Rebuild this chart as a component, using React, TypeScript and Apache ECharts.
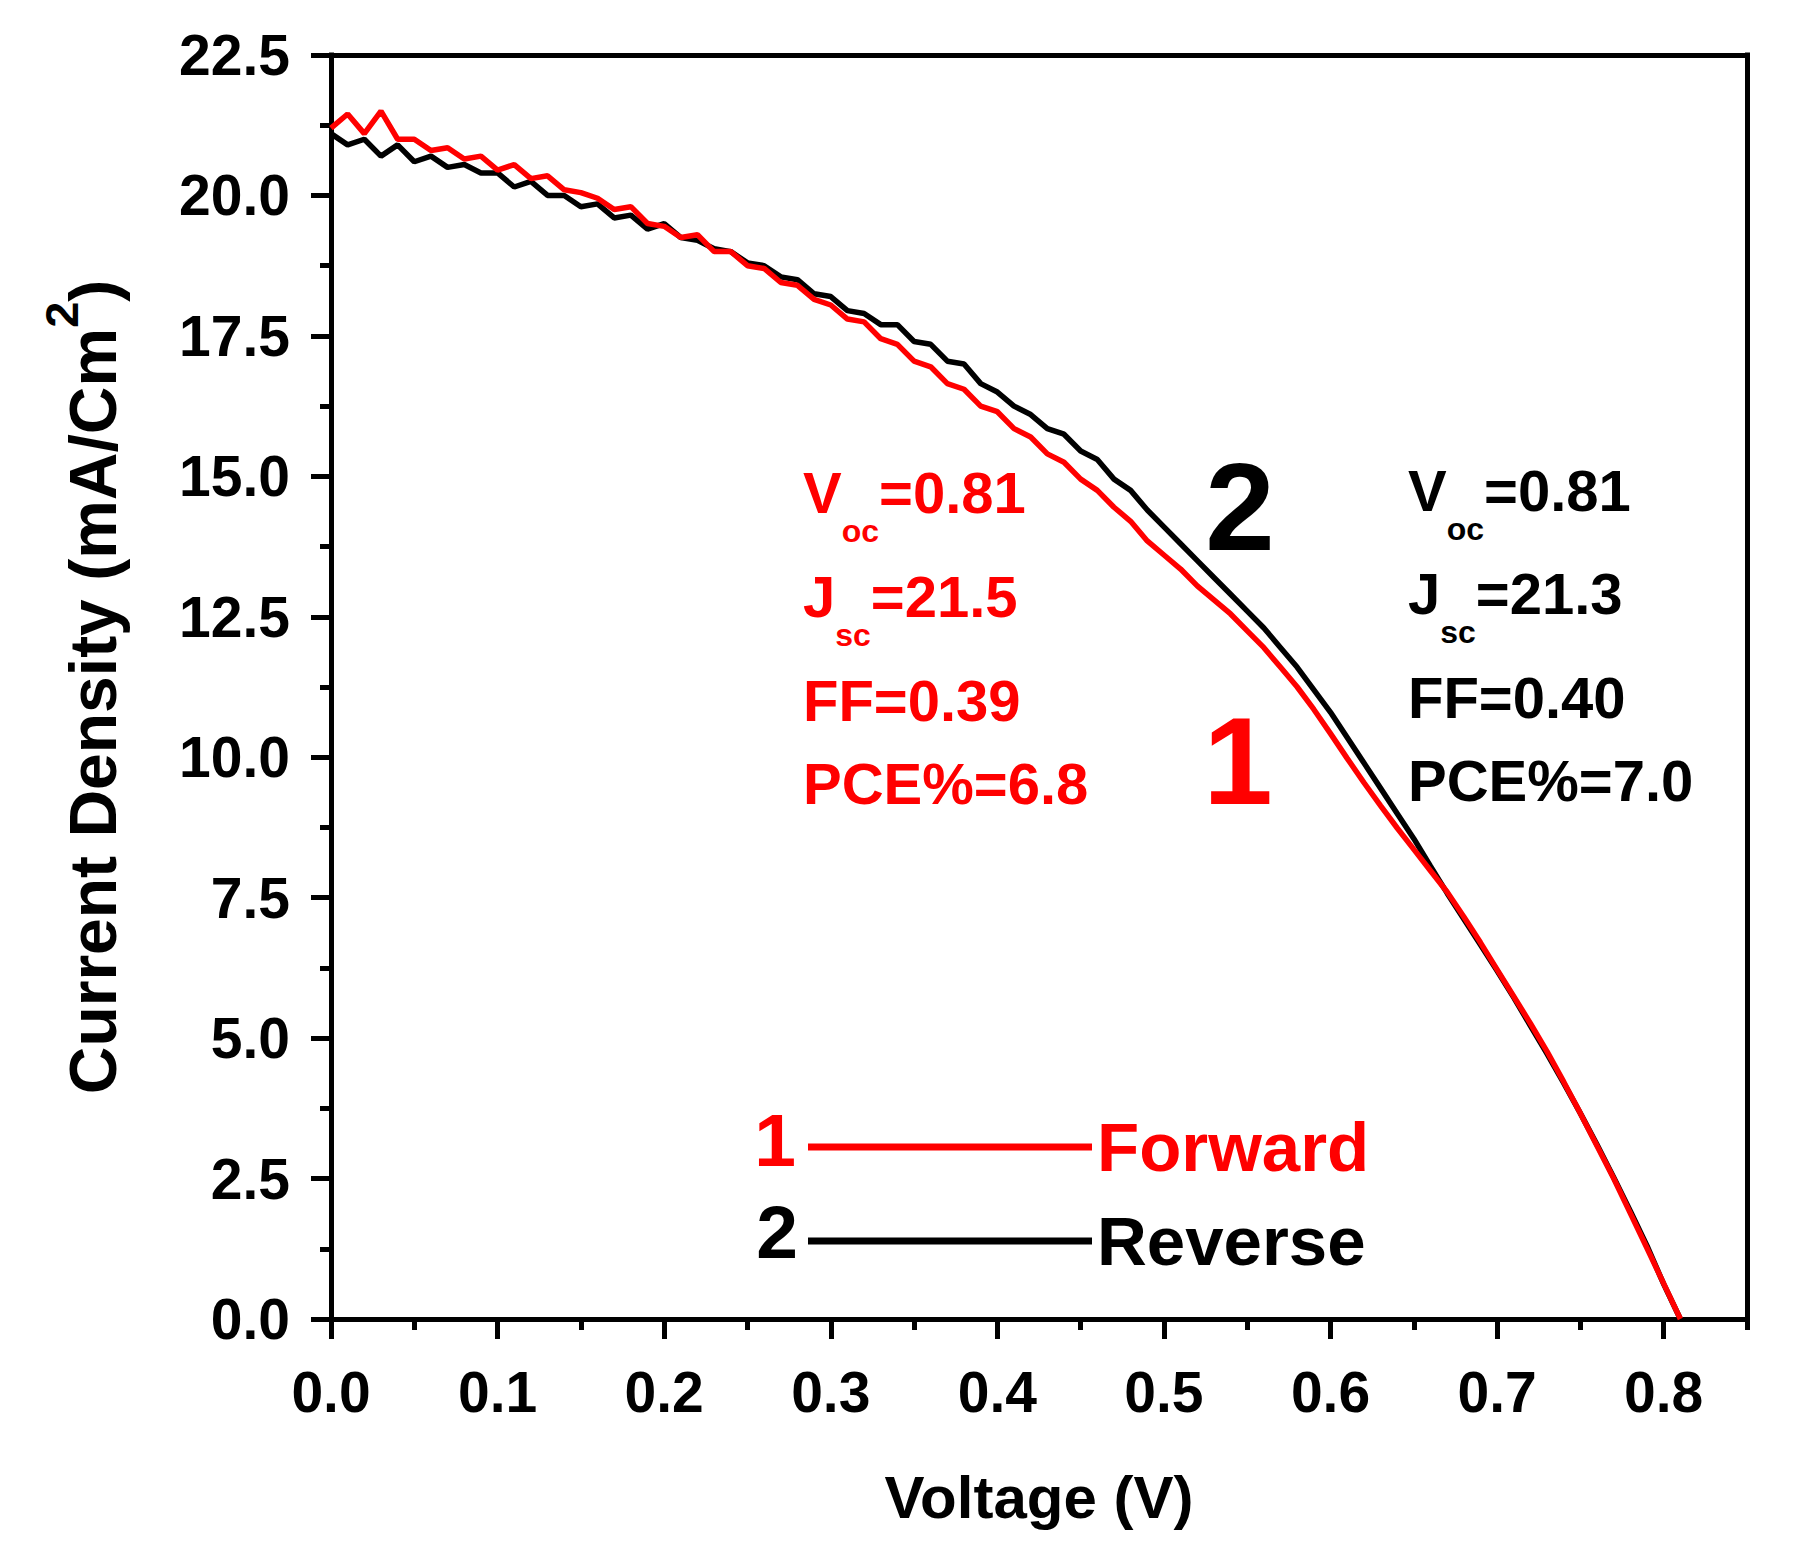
import React, { useEffect, useRef } from "react";
import * as echarts from "echarts";

const voltage = [
  0.0, 0.01, 0.02, 0.03, 0.04, 0.05, 0.06, 0.07, 0.08, 0.09,
  0.1, 0.11, 0.12, 0.13, 0.14, 0.15, 0.16, 0.17, 0.18, 0.19,
  0.2, 0.21, 0.22, 0.23, 0.24, 0.25, 0.26, 0.27, 0.28, 0.29,
  0.3, 0.31, 0.32, 0.33, 0.34, 0.35, 0.36, 0.37, 0.38, 0.39,
  0.4, 0.41, 0.42, 0.43, 0.44, 0.45, 0.46, 0.47, 0.48, 0.49,
  0.5, 0.51, 0.52, 0.53, 0.54, 0.55, 0.56, 0.57, 0.58, 0.59,
  0.6, 0.61, 0.62, 0.63, 0.64, 0.65, 0.66, 0.67, 0.68, 0.69,
  0.7, 0.71, 0.72, 0.73, 0.74, 0.75, 0.76, 0.77, 0.78, 0.79,
  0.8, 0.81,
];

const forwardJ = [
  21.2, 21.45, 21.1, 21.5, 21.0, 21.0, 20.8, 20.85, 20.65, 20.7,
  20.45, 20.55, 20.3, 20.35, 20.1, 20.05, 19.95, 19.75, 19.8, 19.5,
  19.45, 19.25, 19.3, 19.0, 19.0, 18.75, 18.7, 18.45, 18.4, 18.15,
  18.05, 17.8, 17.75, 17.45, 17.35, 17.05, 16.95, 16.65, 16.55, 16.25,
  16.15, 15.85, 15.7, 15.4, 15.25, 14.95, 14.75, 14.45, 14.2, 13.85,
  13.6, 13.35, 13.05, 12.8, 12.55, 12.25, 11.95, 11.6, 11.25, 10.85,
  10.42, 9.98, 9.55, 9.14, 8.74, 8.36, 7.98, 7.6, 7.16, 6.7,
  6.22, 5.74, 5.26, 4.76, 4.22, 3.66, 3.08, 2.5, 1.88, 1.26,
  0.63, 0.0,
];

const reverseJ = [
  21.1, 20.9, 21.0, 20.7, 20.9, 20.6, 20.7, 20.5, 20.55, 20.4,
  20.4, 20.15, 20.25, 20.0, 20.0, 19.8, 19.85, 19.6, 19.65, 19.4,
  19.5, 19.25, 19.2, 19.05, 19.0, 18.8, 18.75, 18.55, 18.5, 18.25,
  18.2, 17.95, 17.9, 17.7, 17.7, 17.4, 17.35, 17.05, 17.0, 16.65,
  16.5, 16.25, 16.1, 15.85, 15.75, 15.45, 15.3, 14.95, 14.75, 14.4,
  14.1, 13.8, 13.5, 13.2, 12.9, 12.6, 12.3, 11.95, 11.6, 11.2,
  10.8, 10.35, 9.9, 9.45, 9.0, 8.55, 8.06, 7.58, 7.12, 6.66,
  6.2, 5.72, 5.22, 4.72, 4.2, 3.66, 3.1, 2.52, 1.92, 1.3,
  0.62, 0.0,
];

const xMajorTicks = [0, 0.1, 0.2, 0.3, 0.4, 0.5, 0.6, 0.7, 0.8];
const xMinorTicks = [0.05, 0.15, 0.25, 0.35, 0.45, 0.55, 0.65, 0.75, 0.85];
const xRange = [0, 0.85];
const yRange = [0, 22.5];
const yInterval = 2.5;

const seriesNames = ["Forward", "Reverse"];
const seriesColors = ["#ff0000", "#000000"];
const seriesNumbers = ["1", "2"];

const statNames = ["V", "J", "FF", "PCE%"];
const statSubs = ["oc", "sc", "", ""];
const forwardStats = ["0.81", "21.5", "0.39", "6.8"];
const reverseStats = ["0.81", "21.3", "0.40", "7.0"];

const FONT = '"Liberation Sans", Arial, Helvetica, sans-serif';

function statText(x: number, y: number, name: string, sub: string, value: string, color: string) {
  const m = { fontSize: 58, fontWeight: "bold", fontFamily: FONT, fill: color, lineHeight: 110 };
  const s = { fontSize: 32, fontWeight: "bold", fontFamily: FONT, fill: color, verticalAlign: "bottom" };
  const text = sub ? `{m|${name}}{s|${sub}}{m|=${value}}` : `{m|${name}=${value}}`;
  return {
    type: "text",
    x,
    y,
    silent: true,
    style: {
      text,
      rich: { m, s },
      fill: color,
      fontSize: 58,
      fontWeight: "bold",
      fontFamily: FONT,
      align: "left",
      verticalAlign: "middle",
    },
  };
}

function bigText(x: number, y: number, text: string, color: string, size: number) {
  return {
    type: "text",
    x,
    y,
    silent: true,
    style: {
      text,
      fill: color,
      fontSize: size,
      fontWeight: "bold",
      fontFamily: FONT,
      align: "center",
      verticalAlign: "middle",
    },
  };
}

export default function App() {
  const ref = useRef<HTMLDivElement>(null);

  useEffect(() => {
    if (!ref.current) return;
    const chart = echarts.init(ref.current, null, { renderer: "svg" });

    const forwardData = voltage.map((v, i) => [v, forwardJ[i]]);
    const reverseData = voltage.map((v, i) => [v, reverseJ[i]]);

    const redY = [492, 596, 700, 783];
    const blackY = [490, 593, 697, 780];
    const graphics: any[] = [];
    statNames.forEach((n, i) => {
      graphics.push(statText(803, redY[i], n, statSubs[i], forwardStats[i], seriesColors[0]));
      graphics.push(statText(1408, blackY[i], n, statSubs[i], reverseStats[i], seriesColors[1]));
    });
    graphics.push(bigText(1240, 506, seriesNumbers[1], seriesColors[1], 125));
    graphics.push(bigText(1238, 760, seriesNumbers[0], seriesColors[0], 125));
    graphics.push(bigText(775, 1140, seriesNumbers[0], seriesColors[0], 75));
    graphics.push(bigText(777, 1232, seriesNumbers[1], seriesColors[1], 75));

    const axisLineStyle = { color: "#000", width: 5, cap: "square" };

    chart.setOption({
      animation: false,
      backgroundColor: "#ffffff",
      grid: { left: 331, top: 55, right: 56, bottom: 244, containLabel: false },
      legend: {
        orient: "vertical",
        left: 803,
        top: 1104,
        itemWidth: 284,
        itemHeight: 7,
        itemGap: 18,
        icon: "rect",
        selectedMode: false,
        data: [
          { name: seriesNames[0], textStyle: { color: seriesColors[0] } },
          { name: seriesNames[1], textStyle: { color: seriesColors[1] } },
        ],
        textStyle: { fontSize: 69, fontWeight: "bold", fontFamily: FONT, lineHeight: 76 },
      },
      xAxis: [
        {
          type: "value",
          position: "bottom",
          min: xRange[0],
          max: xRange[1],
          axisLine: { show: true, onZero: false, lineStyle: axisLineStyle },
          axisTick: { show: true, length: 20, lineStyle: { color: "#000", width: 5 }, customValues: xMajorTicks },
          axisLabel: {
            customValues: xMajorTicks,
            formatter: (v: number) => v.toFixed(1),
            fontSize: 57,
            fontWeight: "bold",
            fontFamily: FONT,
            color: "#000",
            margin: 44,
          },
          splitLine: { show: false },
          name: "Voltage (V)",
          nameLocation: "middle",
          nameGap: 148,
          nameTextStyle: { fontSize: 60, fontWeight: "bold", fontFamily: FONT, color: "#000" },
        },
        {
          type: "value",
          position: "bottom",
          min: xRange[0],
          max: xRange[1],
          axisLine: { show: false, onZero: false },
          axisTick: { show: true, length: 11, lineStyle: { color: "#000", width: 5 }, customValues: xMinorTicks },
          axisLabel: { show: false },
          splitLine: { show: false },
        },
        {
          type: "value",
          position: "top",
          min: xRange[0],
          max: xRange[1],
          axisLine: { show: true, onZero: false, lineStyle: axisLineStyle },
          axisTick: { show: false },
          axisLabel: { show: false },
          splitLine: { show: false },
        },
      ],
      yAxis: [
        {
          type: "value",
          position: "left",
          min: yRange[0],
          max: yRange[1],
          interval: yInterval,
          axisLine: { show: true, onZero: false, lineStyle: axisLineStyle },
          axisTick: { show: true, length: 20, lineStyle: { color: "#000", width: 5 } },
          minorTick: { show: true, splitNumber: 2, length: 11, lineStyle: { color: "#000", width: 5 } },
          axisLabel: {
            formatter: (v: number) => v.toFixed(1),
            fontSize: 57,
            fontWeight: "bold",
            fontFamily: FONT,
            color: "#000",
            margin: 41,
          },
          splitLine: { show: false },
          minorSplitLine: { show: false },
          name: "Current Density (mA/Cm{sup|2})",
          nameLocation: "middle",
          nameRotate: 90,
          nameGap: 183,
          nameTextStyle: {
            fontSize: 66,
            fontWeight: "bold",
            fontFamily: FONT,
            color: "#000",
            lineHeight: 110,
            rich: {
              sup: { fontSize: 47, fontWeight: "bold", fontFamily: FONT, color: "#000", verticalAlign: "top" },
            },
          },
        },
        {
          type: "value",
          position: "right",
          min: yRange[0],
          max: yRange[1],
          interval: yInterval,
          axisLine: { show: true, onZero: false, lineStyle: axisLineStyle },
          axisTick: { show: false },
          axisLabel: { show: false },
          splitLine: { show: false },
        },
      ],
      series: [
        {
          name: seriesNames[1],
          type: "line",
          data: reverseData,
          xAxisIndex: 0,
          yAxisIndex: 0,
          showSymbol: false,
          symbol: "none",
          lineStyle: { color: seriesColors[1], width: 5.5 },
          itemStyle: { color: seriesColors[1] },
        },
        {
          name: seriesNames[0],
          type: "line",
          data: forwardData,
          xAxisIndex: 0,
          yAxisIndex: 0,
          showSymbol: false,
          symbol: "none",
          lineStyle: { color: seriesColors[0], width: 5.5 },
          itemStyle: { color: seriesColors[0] },
        },
      ],
      graphic: graphics,
    });

    return () => chart.dispose();
  }, []);

  return (
    <div
      ref={ref}
      style={{ position: "absolute", left: 0, top: 0, width: 1803, height: 1563, background: "#fff" }}
    />
  );
}
